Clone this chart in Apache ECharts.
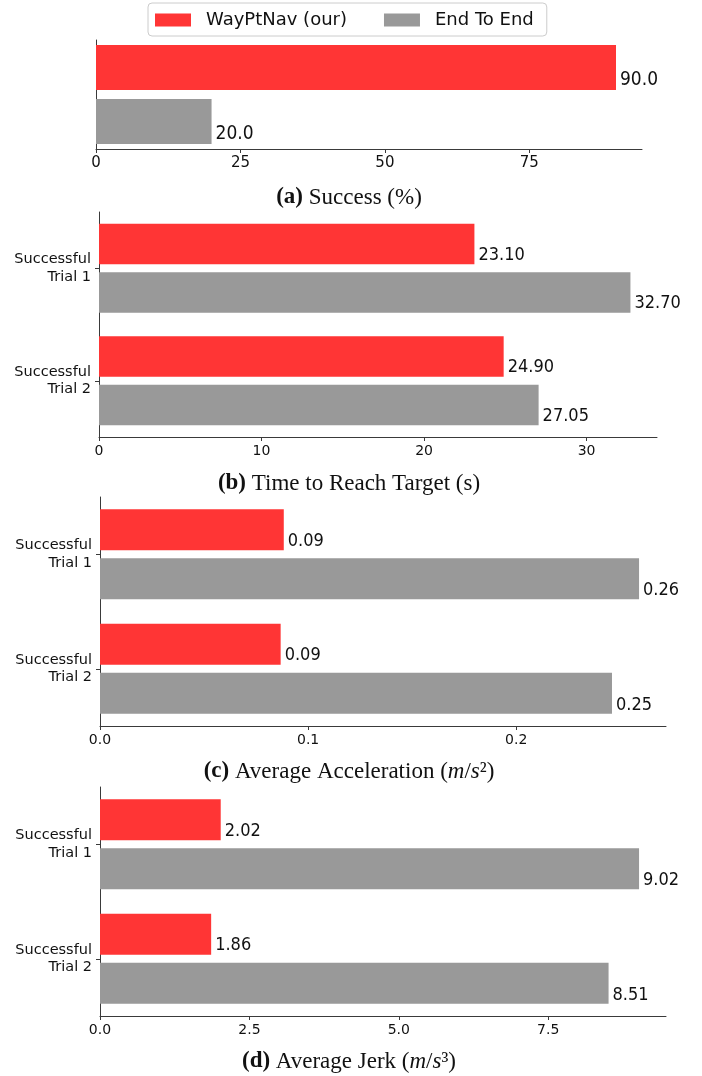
<!DOCTYPE html>
<html>
<head>
<meta charset="utf-8">
<title>WayPtNav vs End To End</title>
<script src="https://cdn.jsdelivr.net/npm/echarts@6/dist/echarts.min.js"></script>
<style>
  html, body { margin: 0; padding: 0; background: #fff; }
  #chart { width: 702px; height: 1076px; }
</style>
</head>
<body>
<div id="chart"></div>
<script>
// Series names
const seriesNames = ['WayPtNav (our)', 'End To End'];

// (a) Success rate
const successCats = [''];
const successOurs = [90.0];
const successE2E = [20.0];
const successTicks = [0, 25, 50, 75];

// Trial categories shared by (b), (c), (d)
const trialCats = ['Successful\nTrial 1', 'Successful\nTrial 2'];

// (b) Time to reach target (s)
const timeOurs = [23.10, 24.90];
const timeE2E = [32.70, 27.05];
const timeTicks = [0, 10, 20, 30];

// (c) Average acceleration (m/s^2)
const accOurs = [0.0883, 0.0868];
const accE2E = [0.259, 0.246];
const accTicks = [0, 0.1, 0.2];

// (d) Average jerk (m/s^3)
const jerkOurs = [2.02, 1.86];
const jerkE2E = [9.02, 8.51];
const jerkTicks = [0, 2.5, 5.0, 7.5];

const RED = '#ff3535';
const GRAY = '#999999';
const AXIS = '#3a3a3a';
const SANS = '"DejaVu Sans", sans-serif';
const COND = '"DejaVu Sans Condensed", "DejaVu Sans", sans-serif';
const SERIF = '"Liberation Serif", "Times New Roman", serif';

const panels = [
  { cats: successCats, ours: successOurs, e2e: successE2E, ticks: successTicks,
    grid: { left: 96, right: 60, top: 40, height: 109 }, barWidth: 45,
    tickFmt: v => String(v), valFmt: v => v.toFixed(1), tickFont: 15, valFont: 19, showYTicks: false },
  { cats: trialCats, ours: timeOurs, e2e: timeE2E, ticks: timeTicks,
    grid: { left: 99, right: 45, top: 212, height: 225 }, barWidth: 40.5,
    tickFmt: v => String(v), valFmt: v => v.toFixed(2), tickFont: 14, valFont: 18, showYTicks: true },
  { cats: trialCats, ours: accOurs, e2e: accE2E, ticks: accTicks,
    grid: { left: 100, right: 36, top: 497, height: 229 }, barWidth: 41,
    tickFmt: v => v.toFixed(1), valFmt: v => v.toFixed(2), tickFont: 14, valFont: 18, showYTicks: true },
  { cats: trialCats, ours: jerkOurs, e2e: jerkE2E, ticks: jerkTicks,
    grid: { left: 100, right: 36, top: 787, height: 229 }, barWidth: 41,
    tickFmt: v => v.toFixed(1), valFmt: v => v.toFixed(2), tickFont: 14, valFont: 18, showYTicks: true }
];

const grids = [], xAxes = [], yAxes = [], series = [];

panels.forEach((p, i) => {
  grids.push(p.grid);
  const maxVal = Math.max(...p.ours, ...p.e2e) * 1.05;
  xAxes.push({
    type: 'value', gridIndex: i, min: 0, max: maxVal,
    interval: p.ticks[1] - p.ticks[0],
    axisLine: { show: true, lineStyle: { color: AXIS, width: 1 } },
    axisTick: { show: true, length: 4, lineStyle: { color: AXIS }, customValues: p.ticks },
    axisLabel: { show: true, margin: 7, color: '#111', fontFamily: SANS, fontSize: p.tickFont,
      customValues: p.ticks, formatter: p.tickFmt },
    splitLine: { show: false }
  });
  yAxes.push({
    type: 'category', gridIndex: i, data: p.cats, inverse: true,
    axisLine: { show: true, lineStyle: { color: AXIS, width: 1 } },
    axisTick: { show: p.showYTicks, length: 4, alignWithLabel: true, lineStyle: { color: AXIS } },
    axisLabel: { show: p.showYTicks, margin: 8, color: '#111', fontFamily: SANS, fontSize: 14.5,
      lineHeight: 17.5, align: 'right' },
    splitLine: { show: false }
  });
  [[p.ours, RED], [p.e2e, GRAY]].forEach(([vals, color], k) => {
    series.push({
      name: seriesNames[k], type: 'bar', xAxisIndex: i, yAxisIndex: i,
      data: vals, barWidth: p.barWidth, barGap: '20%',
      itemStyle: { color: color },
      label: {
        show: true, position: ['100%', '100%'], align: 'left', verticalAlign: 'bottom',
        offset: [4, 0], color: '#111', fontFamily: COND, fontSize: p.valFont,
        lineHeight: p.valFont, formatter: d => p.valFmt(d.value)
      },
      emphasis: { disabled: true },
      animation: false
    });
  });
});

const CAP = 23;
const captionRich = {
  b: { fontFamily: SERIF, fontWeight: 'bold', fontSize: CAP, color: '#111' },
  r: { fontFamily: SERIF, fontWeight: 'normal', fontSize: CAP, color: '#111' },
  i: { fontFamily: SERIF, fontWeight: 'normal', fontStyle: 'italic', fontSize: CAP, color: '#111' }
};
const captions = [
  { text: '{b|(a)} {r|Success (%)}', top: 186 },
  { text: '{b|(b)} {r|Time to Reach Target (s)}', top: 472 },
  { text: '{b|(c)} {r|Average Acceleration (}{i|m}{r|/}{i|s}{r|²)}', top: 760 },
  { text: '{b|(d)} {r|Average Jerk (}{i|m}{r|/}{i|s}{r|³)}', top: 1050 }
];

const option = {
  backgroundColor: '#ffffff',
  animation: false,
  title: captions.map(c => ({
    text: c.text, left: 349, top: c.top, textAlign: 'center', padding: 0,
    textStyle: { rich: captionRich, fontFamily: SERIF, fontSize: CAP, fontWeight: 'normal' }
  })),
  legend: {
    data: seriesNames, left: 148, top: 3,
    orient: 'horizontal', itemWidth: 36, itemHeight: 13, itemGap: 37,
    padding: [7, 13, 6, 7],
    borderColor: '#cccccc', borderWidth: 1, borderRadius: 4,
    icon: 'rect',
    textStyle: { fontFamily: SANS, fontSize: 18, color: '#111', padding: [0, 0, 0, 10], lineHeight: 20 }
  },
  grid: grids,
  xAxis: xAxes,
  yAxis: yAxes,
  series: series
};

const chart = echarts.init(document.getElementById('chart'), null, { renderer: 'canvas' });
chart.setOption(option);
</script>
</body>
</html>
